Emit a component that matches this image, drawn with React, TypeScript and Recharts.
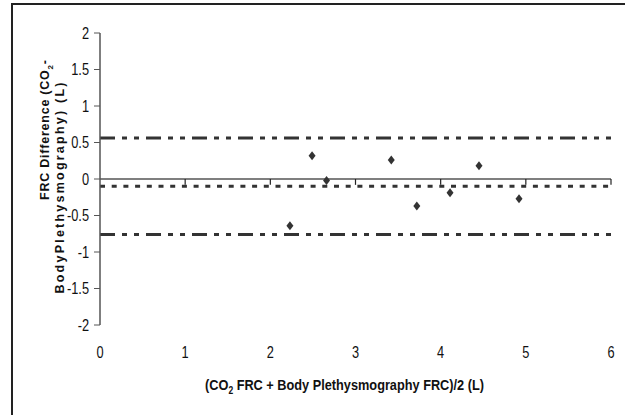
import React from 'react';
import {
  ScatterChart,
  Scatter,
  XAxis,
  YAxis,
  ReferenceLine,
  Label,
} from 'recharts';

// Bland-Altman: mean of the two FRC measurements vs their difference
const meanFrc = [2.23, 2.49, 2.66, 3.42, 3.72, 4.11, 4.45, 4.92];
const diffFrc = [-0.64, 0.32, -0.02, 0.26, -0.37, -0.19, 0.18, -0.27];

const upperLimit = 0.56;
const meanDiff = -0.1;
const lowerLimit = -0.76;

const xTicks = [0, 1, 2, 3, 4, 5, 6];
const yTicks = [-2, -1.5, -1, -0.5, 0, 0.5, 1, 1.5, 2];
// little downward marks on the zero line, in data units
const zeroTickDepth = 0.08;

const points = meanFrc.map((x, i) => ({ x, y: diffFrc[i] }));

const font = "'Liberation Sans', Arial, sans-serif";
const ink = '#333';

// narrow-looking tick labels (Arial Narrow in the original)
const XTick = (props: any) => {
  const { x, y, payload } = props;
  return (
    <text
      transform={`translate(${x}, ${y}) scale(0.8, 1)`}
      textAnchor="middle"
      dy="0.35em"
      fontFamily={font}
      fontSize={16}
      fill="#111"
    >
      {payload.value}
    </text>
  );
};

const YTick = (props: any) => {
  const { x, y, payload } = props;
  return (
    <text
      transform={`translate(${x - 3}, ${y}) scale(0.8, 1)`}
      textAnchor="end"
      dy="0.35em"
      fontFamily={font}
      fontSize={16}
      fill="#111"
    >
      {payload.value}
    </text>
  );
};

const Diamond = (props: any) => {
  const { cx, cy } = props;
  return (
    <polygon
      points={`${cx},${cy - 4.5} ${cx + 3.5},${cy} ${cx},${cy + 4.5} ${cx - 3.5},${cy}`}
      fill={ink}
    />
  );
};

const YTitle = (props: any) => {
  const { viewBox } = props;
  const { x } = viewBox;
  return (
    <g fontFamily={font} fontWeight="bold" fontSize={12.5} fill="#111">
      <text
        x={x + 45}
        y={130}
        dy="0.35em"
        textAnchor="middle"
        transform={`rotate(-90, ${x + 45}, 130)`}
        textLength={140}
        lengthAdjust="spacing"
      >
        FRC Difference (CO
        <tspan fontSize={8} dy="4">2</tspan>
        <tspan dy="-4">-</tspan>
      </text>
      <text
        x={x + 60}
        y={188}
        dy="0.35em"
        textAnchor="middle"
        transform={`rotate(-90, ${x + 60}, 188)`}
        textLength={211}
        lengthAdjust="spacing"
      >
        BodyPlethysmography) (L)
      </text>
    </g>
  );
};

const XTitle = (props: any) => {
  const { viewBox } = props;
  const cx = viewBox.x + viewBox.width / 2 - 11;
  return (
    <text
      transform={`translate(${cx}, 390) scale(0.85, 1)`}
      textAnchor="middle"
      fontFamily={font}
      fontWeight="bold"
      fontSize={15}
      fill="#111"
    >
      (CO
      <tspan fontSize={10} dy="4">2</tspan>
      <tspan dy="-4"> FRC + Body Plethysmography FRC)/2  (L)</tspan>
    </text>
  );
};

export default function App() {
  return (
    <div style={{ position: 'absolute', left: 0, top: 0, width: 625, height: 415, background: '#fff' }}>
      <div
        style={{
          position: 'absolute',
          left: 11,
          top: 3,
          width: 614,
          height: 412,
          borderTop: '2px solid #222',
          borderLeft: '2px solid #222',
          boxSizing: 'border-box',
        }}
      />
      <ScatterChart
        width={625}
        height={415}
        margin={{ top: 33, right: 14, left: 0, bottom: 30 }}
        style={{ position: 'absolute', left: 0, top: 0 }}
      >
        <XAxis
          type="number"
          dataKey="x"
          domain={[0, 6]}
          ticks={xTicks}
          interval={0}
          axisLine={false}
          tickLine={false}
          height={60}
          tickSize={0}
          tickMargin={27}
          tick={<XTick />}
        >
          <Label content={<XTitle />} />
        </XAxis>
        <YAxis
          type="number"
          dataKey="y"
          domain={[-2, 2]}
          ticks={yTicks}
          interval={0}
          width={100}
          tickSize={6}
          tickMargin={2}
          axisLine={{ stroke: '#555', strokeWidth: 1.5 }}
          tickLine={{ stroke: '#555' }}
          tick={<YTick />}
        >
          <Label content={<YTitle />} />
        </YAxis>

        <ReferenceLine y={upperLimit} stroke={ink} strokeWidth={3} strokeDasharray="15 7 5 7 5 7" />
        <ReferenceLine y={lowerLimit} stroke={ink} strokeWidth={3} strokeDasharray="15 7 5 7 5 7" />
        <ReferenceLine y={meanDiff} stroke={ink} strokeWidth={3} strokeDasharray="5 6.7" />

        <ReferenceLine y={0} stroke="#000" strokeWidth={1.2} />
        {xTicks.slice(1).map((t) => (
          <ReferenceLine
            key={t}
            segment={[{ x: t, y: 0 }, { x: t, y: -zeroTickDepth }]}
            stroke="#222"
            strokeWidth={1.2}
          />
        ))}

        <Scatter data={points} shape={<Diamond />} isAnimationActive={false} />
      </ScatterChart>
    </div>
  );
}
